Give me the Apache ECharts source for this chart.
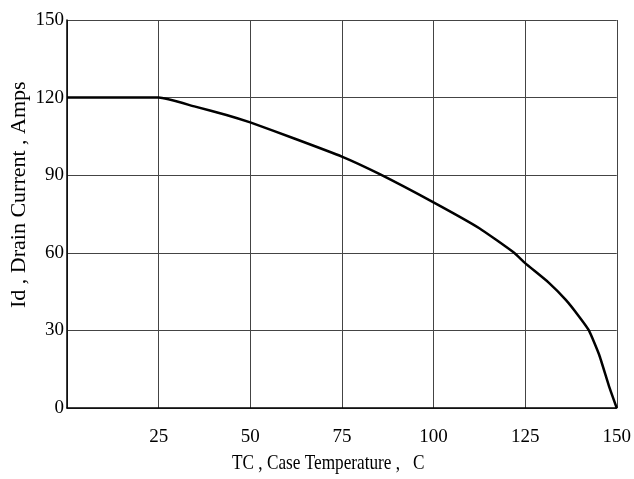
<!DOCTYPE html>
<html>
<head>
<meta charset="utf-8">
<script src="https://cdn.jsdelivr.net/npm/echarts@6/dist/echarts.min.js"></script>
<style>html,body{margin:0;padding:0;background:#fff;}#c{width:634px;height:479px;}</style>
</head>
<body>
<div id="c"></div>
<script>
var temps = [0, 25, 35, 43.5, 50, 62, 75, 85.2, 100, 112.5, 122, 125, 131.5, 136.1, 139.7, 142.4, 145.2, 147.9, 150];
var currents = [120, 120, 116.5, 113.3, 110.4, 104.2, 97.2, 90.5, 79.5, 69.5, 60, 56, 48.4, 41.8, 35.4, 30, 20.6, 8.4, 0];
var xTicks = [0, 25, 50, 75, 100, 125, 150];
var yTicks = [0, 30, 60, 90, 120, 150];
var xTitle = 'TC , Case Temperature ,   C';
var yTitle = 'Id , Drain Current , Amps';

var font = 'Liberation Serif';
var chart = echarts.init(document.getElementById('c'));
chart.setOption({
  animation: false,
  backgroundColor: '#fff',
  grid: {left: 67, right: 16, top: 20, bottom: 71, show: false},
  xAxis: {
    type: 'value', min: xTicks[0], max: xTicks[xTicks.length - 1], interval: 25,
    axisLine: {show: true, onZero: false, lineStyle: {color: '#000', width: 1.5}},
    axisTick: {show: false},
    axisLabel: {
      margin: 20, color: '#000', fontFamily: font, fontSize: 19,
      formatter: function (v) { return v === 0 ? '' : String(v); }
    },
    splitLine: {show: true, lineStyle: {color: '#444', width: 1}}
  },
  yAxis: {
    type: 'value', min: yTicks[0], max: yTicks[yTicks.length - 1], interval: 30,
    axisLine: {show: true, onZero: false, lineStyle: {color: '#000', width: 1.5}},
    axisTick: {show: false},
    axisLabel: {margin: 3, color: '#000', fontFamily: font, fontSize: 19},
    splitLine: {show: true, lineStyle: {color: '#444', width: 1}}
  },
  graphic: [
    {type: 'text', x: 232, y: 453, scaleX: 0.82,
      style: {text: xTitle, fill: '#000', font: '21px "Liberation Serif"'}},
    {type: 'text', x: 8, y: 308, rotation: Math.PI / 2,
      style: {text: yTitle, fill: '#000', font: '22px "Liberation Serif"'}}
  ],
  series: [{
    type: 'line',
    data: temps.map(function (t, i) { return [t, currents[i]]; }),
    showSymbol: false,
    smooth: 0.15,
    lineStyle: {color: '#000', width: 2.5}
  }]
});
</script>
</body>
</html>
